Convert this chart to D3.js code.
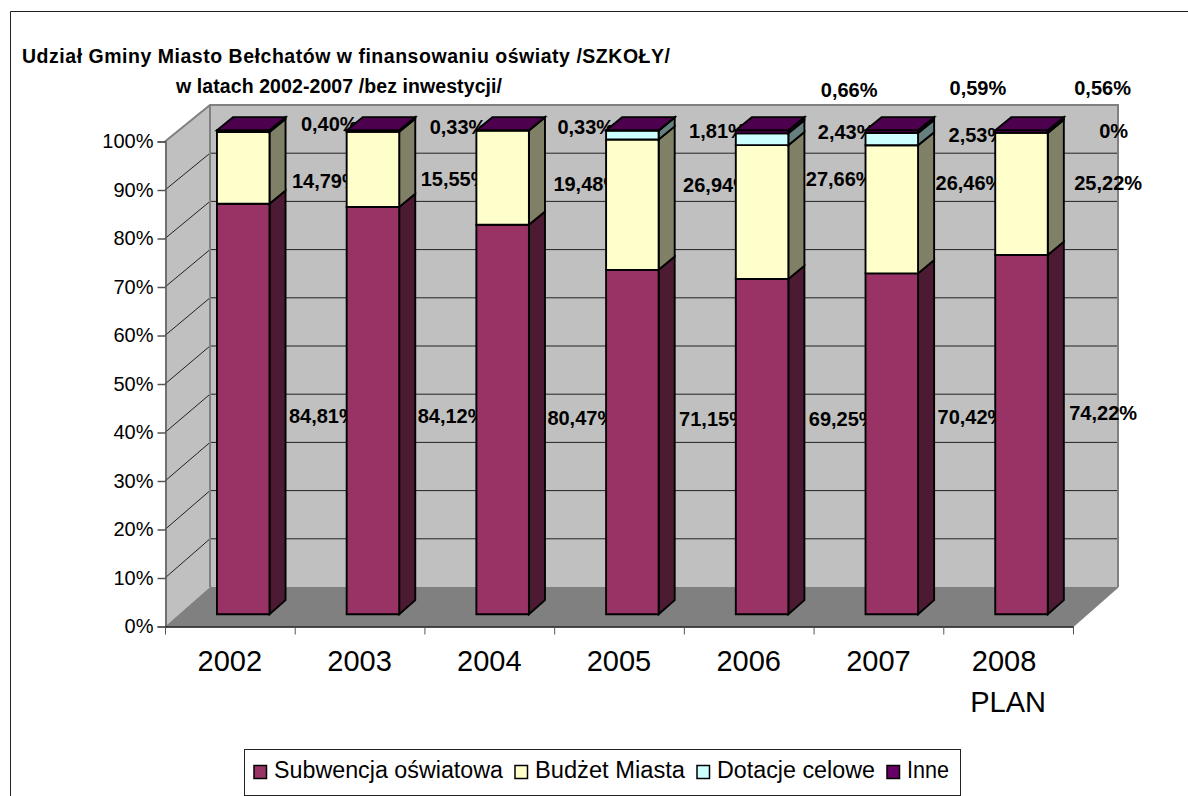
<!DOCTYPE html>
<html><head><meta charset="utf-8">
<script src="https://cdnjs.cloudflare.com/ajax/libs/d3/7.8.5/d3.min.js"></script>
<style>
html,body{margin:0;padding:0;background:#fff}
svg{display:block}
text{font-family:"Liberation Sans",Arial,sans-serif;fill:#000}
</style></head><body>
<svg id="c" width="1188" height="796"></svg>
<script>
const categories=["2002","2003","2004","2005","2006","2007","2008 "];
const categorySecondLine=["","","","","","","PLAN"];
const seriesNames=["Subwencja oświatowa","Budżet Miasta","Dotacje celowe","Inne"];
const subwencja=[84.81,84.12,80.47,71.15,69.25,70.42,74.22];
const budzet=[14.79,15.55,19.48,26.94,27.66,26.46,25.22];
const dotacje=[0,0,0,1.81,2.43,2.53,0];
const inne=[0.40,0.33,0.05,0.10,0.66,0.59,0.56];
const yTicks=[0,10,20,30,40,50,60,70,80,90,100];
const titleLines=["Udział Gminy Miasto Bełchatów w finansowaniu oświaty /SZKOŁY/","w latach 2002-2007 /bez inwestycji/"];

// Printed labels, each as in the source, and the small hand placement offsets the source labels have
const subLabels=["84,81%","84,12%","80,47%","71,15%","69,25%","70,42%","74,22%"];
const budLabels=["14,79%","15,55%","19,48%","26,94%","27,66%","26,46%","25,22%"];
const topLabels=["0,40%","0,33%","0,33%","1,81%","2,43%","2,53%","0%"];
const inneLabels=["","","","","0,66%","0,59%","0,56%"];
const subOff=[[72,423],[71,423],[71,425],[73,426],[73,426],[72,424],[74,420]];
const budOff=[[75,188],[74,186],[77,191],[77,192],[70,186],[70,190],[79,190]];
const topOff=[[84,131],[83,134],[81,134],[83,138],[82,139],[83,142],[104,138]];
const inneOff=[[0,0],[0,0],[0,0],[0,0],[85,97],[84,95],[79,95]];
const legendTextWidths=[229,150,158,42];

const colors=["#993366","#ffffcc","#ccffff","#660066"];
const sideColors=["#4d1a33","#808066","#668080","#330033"];
const topColor="#4d004d";

const svg=d3.select("#c");
const x=d3.scaleLinear().domain([0,7]).range([165,1073]);
const yFront=d3.scaleLinear().domain([0,100]).range([626.5,141.5]);
const yBack=d3.scaleLinear().domain([0,100]).range([587,105]);
const depthX=d3.scaleLinear().domain([0,1]).range([0,45]);
const px=(i,d)=>x(i)+depthX(d);
const py=(v,d)=>yFront(v)*(1-d)+yBack(v)*d;
const path=pts=>d3.line()(pts)+"Z";

// outer frame (top and left only are visible)
svg.append("path").attr("d","M10.5,796V11.5H1188").attr("fill","none").attr("stroke","#222").attr("stroke-width",1);

// title
svg.append("text").attr("x",22).attr("y",63).attr("font-size",19.5).attr("font-weight","bold")
  .attr("textLength",648).attr("lengthAdjust","spacing").text(titleLines[0]);
svg.append("text").attr("x",176).attr("y",93).attr("font-size",19.5).attr("font-weight","bold")
  .attr("textLength",326).attr("lengthAdjust","spacing").text(titleLines[1]);

// walls
const wallC="#c0c0c0", edge="#808080";
svg.append("path").attr("fill",wallC).attr("d",path([[px(0,0),py(0,0)],[px(0,1),py(0,1)],[px(0,1),py(100,1)],[px(0,0),py(100,0)]]));
svg.append("path").attr("fill",wallC).attr("d",path([[px(0,1),py(0,1)],[px(7,1),py(0,1)],[px(7,1),py(100,1)],[px(0,1),py(100,1)]]));
// gridlines
yTicks.slice(1,-1).forEach(t=>{
  svg.append("path").attr("fill","none").attr("stroke","#222").attr("stroke-width",1)
    .attr("d",d3.line()([[px(0,0),py(t,0)],[px(0,1),py(t,1)],[px(7,1),py(t,1)]]));
});
// floor
svg.append("path").attr("fill","#808080").attr("d",path([[px(0,0),py(0,0)],[px(0,1),py(0,1)],[px(7,1),py(0,1)],[px(7,0),py(0,0)]]));
// wall edges
svg.append("path").attr("fill","none").attr("stroke",edge).attr("stroke-width",2)
  .attr("d",d3.line()([[px(0,0),py(100,0)],[px(0,1),py(100,1)],[px(7,1),py(100,1)],[px(7,1),py(0,1)]]));
svg.append("path").attr("fill","none").attr("stroke",edge).attr("stroke-width",2)
  .attr("d",d3.line()([[px(0,1),py(100,1)],[px(0,1),py(0,1)]]));
svg.append("path").attr("fill","none").attr("stroke",edge).attr("stroke-width",1.5)
  .attr("d",d3.line()([[px(7,0),py(0,0)],[px(7,1),py(0,1)]]));

// labels are underneath the bars
const barLeft=i=>px(i,0.31)+38;
function labelRow(labels,off){
  labels.forEach((s,i)=>{ if(!s) return;
    svg.append("text").attr("x",barLeft(i)+off[i][0]).attr("y",off[i][1])
      .attr("font-size",20).attr("font-weight","bold").text(s);
  });
}
labelRow(subLabels,subOff);labelRow(budLabels,budOff);labelRow(topLabels,topOff);labelRow(inneLabels,inneOff);

// bars
const table=categories.map((c,i)=>({i,s0:subwencja[i],s1:budzet[i],s2:dotacje[i],s3:inne[i]}));
const stack=d3.stack().keys(["s0","s1","s2","s3"]).offset(d3.stackOffsetExpand)(table);
const d0=0.31,d1=0.667,barW=0.405;
const g=svg.append("g").attr("stroke","#000").attr("stroke-width",1.9).attr("stroke-linejoin","miter");
table.forEach((row,i)=>{
  const L=barLeft(i), R=L+x(barW)-x(0), sx=depthX(d1-d0);
  const xB=R+sx;
  stack.forEach((ser,k)=>{
    const a=ser[i][0]*100,b=ser[i][1]*100;
    if(b-a<=0) return;
    g.append("path").attr("fill",sideColors[k]).attr("d",path([[R,py(a,d0)],[xB,py(a,d1)],[xB,py(b,d1)],[R,py(b,d0)]]));
    g.append("path").attr("fill",colors[k]).attr("d",path([[L,py(a,d0)],[R,py(a,d0)],[R,py(b,d0)],[L,py(b,d0)]]));
  });
  g.append("path").attr("fill",topColor).attr("d",path([[L,py(100,d0)],[R,py(100,d0)],[xB,py(100,d1)],[L+sx,py(100,d1)]]));
});

// axes
const yAxis=d3.axisLeft(yFront).tickValues(yTicks).tickFormat(d=>d+"%").tickSize(8).tickPadding(4);
const ya=svg.append("g").attr("transform","translate(165.5,0)").call(yAxis);
ya.selectAll("line,path").attr("stroke","#555").attr("stroke-width",1.5);
ya.selectAll("text").attr("font-size",20).attr("font-family",'"Liberation Sans",Arial,sans-serif').attr("fill","#000");
const xAxis=d3.axisBottom(x).tickValues(d3.range(0,8)).tickFormat("").tickSize(8).tickSizeOuter(0);
const xa=svg.append("g").attr("transform","translate(0,626.5)").call(xAxis);
xa.selectAll("path").attr("stroke","#111").attr("stroke-width",1.5);
xa.selectAll("line").attr("stroke","#555").attr("stroke-width",1);
categories.forEach((c,i)=>{
  svg.append("text").attr("x",x(i+0.5)).attr("y",671).attr("font-size",29).attr("text-anchor","middle").style("white-space","pre").text(c);
  if(categorySecondLine[i]) svg.append("text").attr("x",x(i+0.5)).attr("y",712).attr("font-size",29).attr("text-anchor","middle").text(categorySecondLine[i]);
});

// legend
svg.append("rect").attr("x",244.5).attr("y",749.5).attr("width",716).attr("height",46).attr("fill","#fff").attr("stroke","#222");
let lx=254;
seriesNames.forEach((n,k)=>{
  svg.append("rect").attr("x",lx).attr("y",765.5).attr("width",12.5).attr("height",13).attr("fill",colors[k]).attr("stroke","#000").attr("stroke-width",1.5);
  svg.append("text").attr("x",lx+20).attr("y",778).attr("font-size",23.5)
    .attr("textLength",legendTextWidths[k]).attr("lengthAdjust","spacingAndGlyphs").text(n);
  lx+=20+legendTextWidths[k]+12;
});
</script>
</body></html>
